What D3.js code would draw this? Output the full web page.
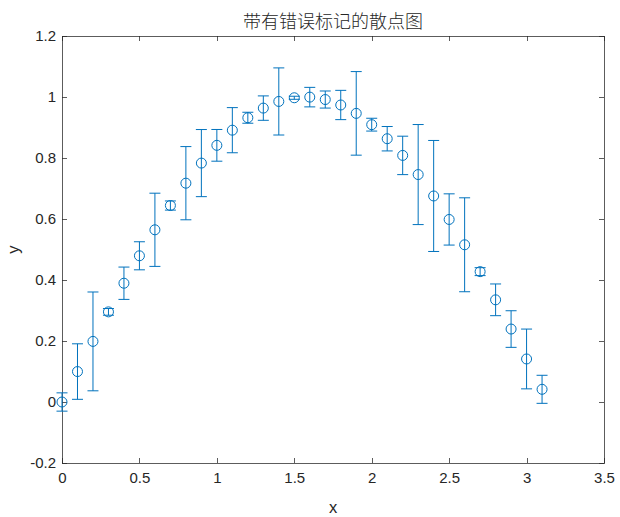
<!DOCTYPE html>
<html><head><meta charset="utf-8">
<script src="https://cdn.jsdelivr.net/npm/d3@7"></script>
<style>body{margin:0;background:#fff}svg{display:block}</style>
</head><body><svg id="c" width="620" height="517"></svg>
<script>
const xs = [0,0.1,0.2,0.3,0.4,0.5,0.6,0.7,0.8,0.9,1.0,1.1,1.2,1.3,1.4,1.5,1.6,1.7,1.8,1.9,2.0,2.1,2.2,2.3,2.4,2.5,2.6,2.7,2.8,2.9,3.0,3.1];
const ys = [0,0.0998,0.1987,0.2955,0.3894,0.4794,0.5646,0.6442,0.7174,0.7833,0.8415,0.8912,0.932,0.9636,0.9854,0.9975,0.9996,0.9917,0.9738,0.9463,0.9093,0.8632,0.8085,0.7457,0.6755,0.5985,0.5155,0.4274,0.335,0.2392,0.1411,0.0416];
const errs = [0.03,0.091,0.162,0.011,0.053,0.046,0.12,0.015,0.12,0.11,0.052,0.074,0.018,0.04,0.11,0.005,0.032,0.028,0.048,0.137,0.021,0.04,0.063,0.164,0.182,0.084,0.154,0.013,0.052,0.06,0.098,0.046];
const xTicks = [0,0.5,1,1.5,2,2.5,3,3.5];
const yTicks = [-0.2,0,0.2,0.4,0.6,0.8,1,1.2];
const title = "带有错误标记的散点图";

const L=62,R=604,T=36,B=463;
const svg=d3.select("#c");
const x=d3.scaleLinear().domain([0,3.5]).range([L,R]);
const y=d3.scaleLinear().domain([-0.2,1.2]).range([B,T]);
const axCol="#262626", col="#0072BD";
const font="Arial, 'Liberation Sans', Helvetica, sans-serif";
const fmt=d=>d3.format("")(d).replace("−","-");

svg.append("rect").attr("x",L).attr("y",T).attr("width",R-L).attr("height",B-T)
  .attr("fill","#fff").attr("stroke",axCol).attr("stroke-width",1).attr("shape-rendering","crispEdges").attr("stroke-opacity",0.75);

function style(g){g.select(".domain").remove();g.selectAll("line").attr("stroke",axCol).attr("stroke-opacity",0.75).attr("shape-rendering","crispEdges");
  g.selectAll("text").attr("fill",axCol).style("font-family",font).style("font-size","15px");}
svg.append("g").attr("transform",`translate(0,${B})`).call(d3.axisBottom(x).tickValues(xTicks).tickFormat(fmt).tickSizeInner(-5).tickSizeOuter(0).tickPadding(9)).call(style);
svg.append("g").attr("transform",`translate(0,${T})`).call(d3.axisTop(x).tickValues(xTicks).tickFormat("").tickSizeInner(-5).tickSizeOuter(0)).call(style);
svg.append("g").attr("transform",`translate(${L},0)`).call(d3.axisLeft(y).tickValues(yTicks).tickFormat(fmt).tickSizeInner(-5).tickSizeOuter(0).tickPadding(6)).call(style);
svg.append("g").attr("transform",`translate(${R},0)`).call(d3.axisRight(y).tickValues(yTicks).tickFormat("").tickSizeInner(-5).tickSizeOuter(0)).call(style);

const data=xs.map((v,i)=>({x:v,y:ys[i],e:errs[i]}));
const g=svg.append("g").attr("stroke",col).attr("fill","none").attr("stroke-width",1);
g.selectAll(".v").data(data).join("line").attr("x1",d=>x(d.x)).attr("x2",d=>x(d.x)).attr("y1",d=>y(d.y-d.e)).attr("y2",d=>y(d.y+d.e));
g.selectAll(".t").data(data).join("line").attr("x1",d=>x(d.x)-5.5).attr("x2",d=>x(d.x)+5.5).attr("y1",d=>y(d.y+d.e)).attr("y2",d=>y(d.y+d.e));
g.selectAll(".b").data(data).join("line").attr("x1",d=>x(d.x)-5.5).attr("x2",d=>x(d.x)+5.5).attr("y1",d=>y(d.y-d.e)).attr("y2",d=>y(d.y-d.e));
g.selectAll("circle").data(data).join("circle").attr("cx",d=>x(d.x)).attr("cy",d=>y(d.y)).attr("r",5);

svg.append("text").attr("x",(L+R)/2).attr("y",28).attr("text-anchor","middle").attr("fill","#262626")
  .style("font-family","'Noto Sans CJK SC', sans-serif").style("font-size","18px").style("font-weight","300").text(title);
svg.append("text").attr("x",(L+R)/2).attr("y",513).attr("text-anchor","middle").attr("fill",axCol)
  .style("font-family",font).style("font-size","16.5px").text("x");
svg.append("text").attr("transform",`translate(19,${(T+B)/2}) rotate(-90)`).attr("text-anchor","middle").attr("fill",axCol)
  .style("font-family",font).style("font-size","16.5px").text("y");
</script></body></html>
